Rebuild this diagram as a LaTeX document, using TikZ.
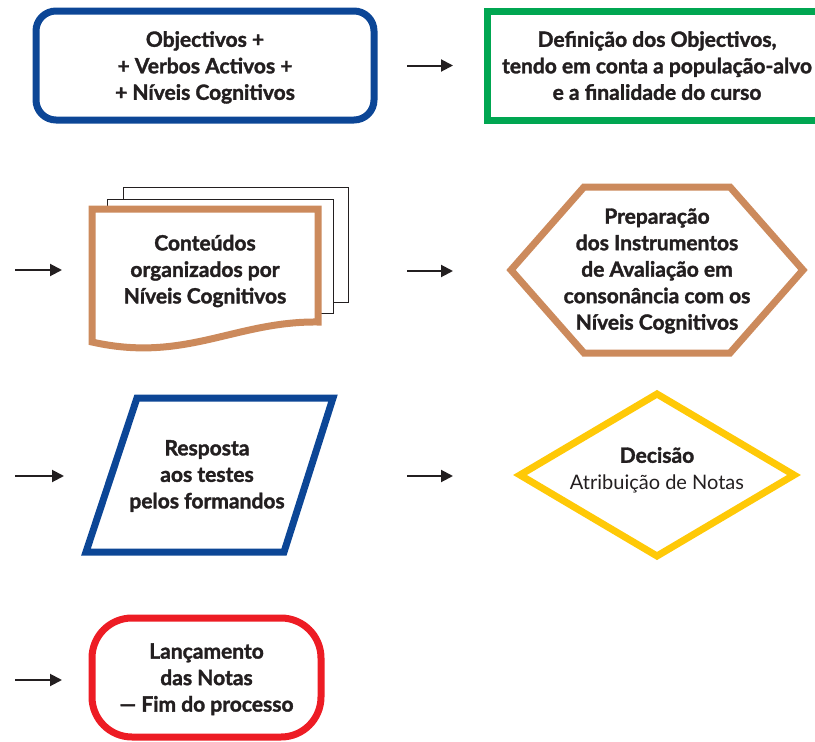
\documentclass[tikz,border=0pt]{standalone}
\usepackage{fontspec}
\setmainfont{Lato}[BoldFeatures={FakeBold=1.6}]
\usetikzlibrary{positioning, arrows.meta}
\definecolor{flowblue}{RGB}{12,70,150}
\definecolor{flowgreen}{RGB}{0,166,81}
\definecolor{flowtan}{RGB}{204,138,92}
\definecolor{flowyellow}{RGB}{255,201,7}
\definecolor{flowred}{RGB}{237,28,36}
\definecolor{ink}{RGB}{35,31,32}
\tikzset{
  boxtext/.style={
    font=\bfseries\fontsize{21}{26.5}\selectfont, text=ink, align=center, outer sep=0pt
  },
  objbox/.style={
    boxtext, text depth=0pt, rectangle, rounded corners=20pt, draw=flowblue, line width=7pt,
    minimum width=338pt, minimum height=109pt
  },
  goalbox/.style={
    boxtext, text depth=0pt, rectangle, draw=flowgreen, line width=7pt,
    minimum width=340pt, minimum height=109pt
  },
  endbox/.style={
    boxtext, text depth=0pt, rectangle, rounded corners=40pt, draw=flowred, line width=7pt,
    minimum width=229pt, minimum height=119pt
  },
  frame/.style={boxtext, rectangle, inner sep=0pt},
  docpage/.style={draw=ink, line width=1pt, fill=white},
  docframe/.style={draw=flowtan, line width=7pt, fill=white, line join=miter},
  arrow/.style={line width=2pt, draw=ink, -{Triangle[length=12pt,width=12pt]}}
}
\begin{document}
\begin{tikzpicture}[x=1pt, y=-1pt]
\clip[use as bounding box] (0,0) rectangle (815,742);

% Row 1
\node[objbox] (obj) at (205,65.5) {Objectivos +\\+ Verbos Activos +\\+ Níveis Cognitivos};
\node[goalbox] (def) at (657,65.5) {Definição dos Objectivos,\\tendo em conta a população-alvo\\e a finalidade do curso};

% Row 2: stacked pages behind the document
\draw[docpage] (123,187) rectangle (348,302);
\draw[docpage] (107,199) rectangle (333,313);
\begin{scope}[shift={(205,271)}]
  \draw[docframe] (-113,-62) -- (113,-62) -- (113,51)
    .. controls (30,50) and (-20,92) .. (-113,71) -- cycle;
\end{scope}
\node[frame, minimum width=226pt, minimum height=124pt] (cont) at (205,271)
  {Conteúdos\\organizados por\\Níveis Cognitivos};

\begin{scope}[shift={(657,270)}]
  \draw[docframe] (-146,0) -- (-73,-83) -- (73,-83) -- (146,0) -- (73,83) -- (-73,83) -- cycle;
\end{scope}
\node[frame, minimum width=292pt, minimum height=166pt] (prep) at (657,271)
  {Preparação\\dos Instrumentos\\de Avaliação em\\consonância com os\\Níveis Cognitivos};

% Row 3
\begin{scope}[shift={(210,475)}]
  \draw[docframe, draw=flowblue] (-73,-77) -- (123,-77) -- (74,77) -- (-124,77) -- cycle;
\end{scope}
\node[frame, minimum width=197pt, minimum height=154pt] (resp) at (207,476)
  {Resposta\\aos testes\\pelos formandos};

\begin{scope}[shift={(657,475)}]
  \draw[docframe, draw=flowyellow] (-137,0) -- (0,-81) -- (137,0) -- (0,81) -- cycle;
\end{scope}
\node[frame, minimum width=274pt, minimum height=152pt] (dec) at (657,470)
  {Decisão\\\mdseries\fontsize{20}{26.5}\selectfont Atribuição de Notas};

% Row 4
\node[endbox] (fim) at (206.5,677.5) {Lançamento\\das Notas\\— Fim do processo};

% Arrows
\coordinate (in2) at (15,270);
\coordinate (in3) at (15,476);
\coordinate (in4) at (15,680);
\draw[arrow, shorten <=33pt, shorten >=34pt] (obj.east) -- (def.west);
\draw[arrow, shorten <=89pt, shorten >=58pt] (cont.east) -- (cont.east -| prep.west);
\draw[arrow, shorten <=101.5pt, shorten >=67pt] (resp.east) -- (resp.east -| dec.west);
\draw[arrow, shorten >=30pt] (in2) -- (in2 -| cont.west);
\draw[arrow, shorten >=44.5pt] (in3) -- (in3 -| resp.west);
\draw[arrow, shorten >=30pt] (in4) -- (in4 -| fim.west);

\end{tikzpicture}
\end{document}
